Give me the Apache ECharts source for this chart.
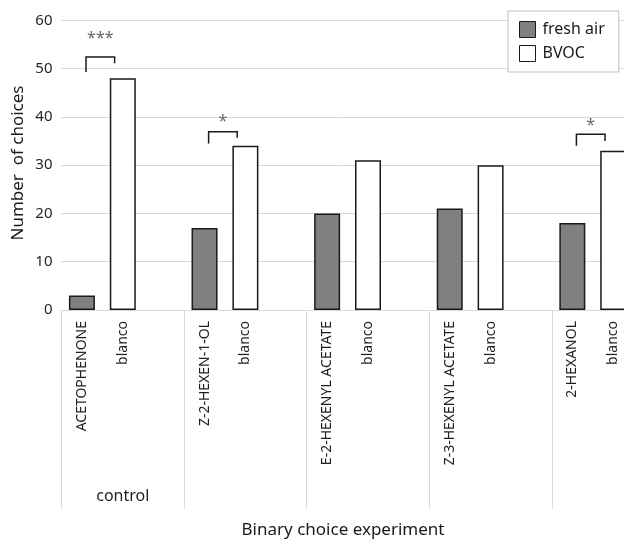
<!DOCTYPE html>
<html>
<head>
<meta charset="utf-8">
<script src="https://cdn.jsdelivr.net/npm/echarts@6/dist/echarts.min.js"></script>
<style>
html,body{margin:0;padding:0;background:#fff;}
#chart{width:624px;height:542px;}
</style>
</head>
<body>
<div id="chart"></div>
<script>
// ---- data ----
const categories = ['ACETOPHENONE','blanco','','Z-2-HEXEN-1-OL','blanco','','E-2-HEXENYL ACETATE','blanco','','Z-3-HEXENYL ACETATE','blanco','','2-HEXANOL','blanco',''];
const groupLabels = ['control','','','',''];
const freshAir = [3,'-','-',17,'-','-',20,'-','-',21,'-','-',18,'-','-'];
const bvoc = ['-',48,'-','-',34,'-','-',31,'-','-',30,'-','-',33,'-'];
const yTicks = [0,10,20,30,40,50,60];
// significance brackets
const sigLeft = [0, 3, 12];
const sigRight = [1, 4, 13];
const sigTop = [52.4, 36.9, 36.4];
const sigLeftEnd = [49.3, 34.5, 34.0];
const sigRightEnd = [51.1, 35.7, 35.0];
const sigStar = [56.3, 39.0, 38.2];
const sigText = ['***','*','*'];

const FONT = 'Noto Sans';
const chart = echarts.init(document.getElementById('chart'), null, {renderer:'canvas'});

const sigData = sigLeft.map((l,i)=>[l, sigRight[i], sigTop[i], sigLeftEnd[i], sigRightEnd[i], sigStar[i]]);

const option = {
  backgroundColor:'#fff',
  animation:false,
  textStyle:{fontFamily:FONT},
  grid:{left:61.5, top:20.3, width:613, bottom:232, containLabel:false, outerBoundsMode:'none'},
  legend:{
    data:['fresh air','BVOC'],
    orient:'vertical', left:508, top:11,
    padding:[10,14,10,11],
    itemWidth:16, itemHeight:16, itemGap:7,
    icon:'rect',
    borderColor:'#bfbfbf', borderWidth:1, backgroundColor:'#fff',
    itemStyle:{borderWidth:1},
    textStyle:{fontSize:16, color:'#1a1a1a', fontFamily:FONT, padding:[0,0,0,2]}
  },
  xAxis:[{
    type:'category', data:categories, position:'bottom',
    axisLine:{show:true, lineStyle:{color:'#d9d9d9', width:1}},
    axisTick:{show:false},
    axisLabel:{interval:0, rotate:90, margin:11, fontSize:14, color:'#1f1f1f', fontFamily:FONT}
  },{
    type:'category', data:groupLabels, position:'bottom', gridIndex:0,
    axisLine:{show:false},
    axisTick:{show:true, length:199, lineStyle:{color:'#d9d9d9', width:1}},
    axisLabel:{interval:0, margin:178, fontSize:16, color:'#1f1f1f', fontFamily:FONT}
  }],
  yAxis:{
    type:'value', min:0, max:60, interval:10,
    axisLine:{show:false}, axisTick:{show:false},
    splitLine:{lineStyle:{color:'#d9d9d9', width:1}},
    axisLabel:{margin:9, fontSize:15, color:'#262626', fontFamily:FONT,
      formatter:v=> yTicks.includes(v) ? String(v) : ''}
  },
  series:[{
    name:'fresh air', type:'bar', data:freshAir, xAxisIndex:0,
    barWidth:26, barGap:'-100%',
    itemStyle:{color:'#808080', borderColor:'#1a1a1a', borderWidth:1.5}
  },{
    name:'BVOC', type:'bar', data:bvoc, xAxisIndex:0,
    barWidth:26, barGap:'-100%',
    itemStyle:{color:'#ffffff', borderColor:'#1a1a1a', borderWidth:1.5}
  },{
    name:'sig', type:'custom', xAxisIndex:0, data:sigData,
    encode:{x:[0,1], y:[2,3,4,5]},
    z:5,
    renderItem:function(params, api){
      const band = api.size([1,0])[0];
      const pL = api.coord([api.value(0), api.value(2)]);
      const pR = api.coord([api.value(1), api.value(2)]);
      const xL = pL[0] + 0.1*band;
      const xR = pR[0] - 0.2*band;
      const yT = pL[1];
      const yL = api.coord([api.value(0), api.value(3)])[1];
      const yR = api.coord([api.value(1), api.value(4)])[1];
      const yS = api.coord([api.value(0), api.value(5)])[1];
      return {type:'group', children:[
        {type:'polyline', shape:{points:[[xL,yL],[xL,yT],[xR,yT],[xR,yR]]},
         style:{stroke:'#1a1a1a', lineWidth:1.5, fill:null}},
        {type:'text', x:(xL+xR)/2, y:yS,
         style:{text:sigText[params.dataIndex], fill:'#666', font:'16px "Noto Sans"', align:'center', verticalAlign:'middle'}}
      ]};
    }
  }],
  graphic:[
    {type:'text', x:18, y:163, rotation:Math.PI/2,
     style:{text:'Number  of choices', fill:'#1a1a1a', font:'17px "Noto Sans"', align:'center', verticalAlign:'middle'}},
    {type:'text', x:343, y:530,
     style:{text:'Binary choice experiment', fill:'#1a1a1a', font:'17px "Noto Sans"', align:'center', verticalAlign:'middle'}}
  ]
};
chart.setOption(option);
</script>
</body>
</html>
